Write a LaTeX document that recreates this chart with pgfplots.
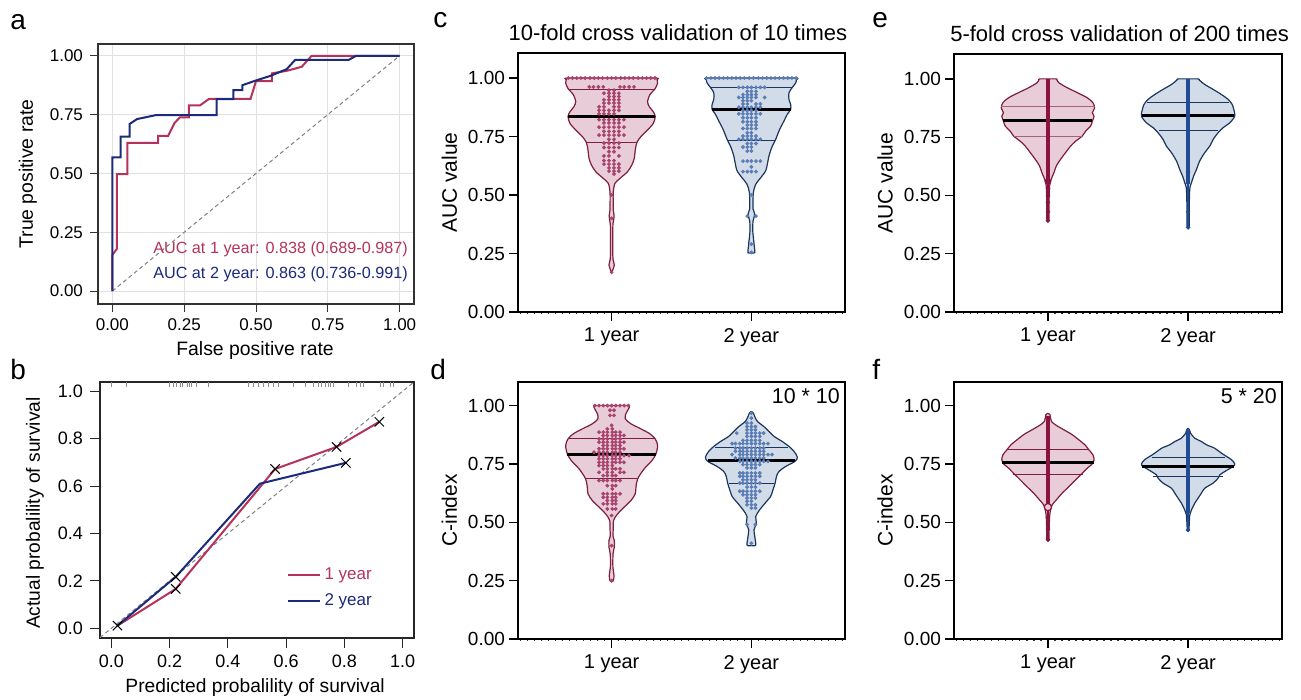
\documentclass[border=0pt]{standalone}
\usepackage{fontspec}
\setmainfont{Liberation Sans}
\usepackage{xcolor}
\usepackage{pgfplots}
\pgfplotsset{compat=1.18}
\usepackage{pgfplotstable}

\definecolor{RocRed}{HTML}{B5335A}
\definecolor{RocBlue}{HTML}{1B2A7A}
\definecolor{VRedLine}{HTML}{7D1E3E}
\definecolor{VRedFill}{HTML}{E8CDD8}
\definecolor{VRedDot}{HTML}{A8436E}
\definecolor{VRedCol}{HTML}{8A1340}
\definecolor{VBlueLine}{HTML}{1C355E}
\definecolor{VBlueFill}{HTML}{D2DCE8}
\definecolor{VBlueDot}{HTML}{5A7DB5}
\definecolor{VBlueCol}{HTML}{1F4C94}

\newcommand{\fs}[1]{\fontsize{#1}{1.2\dimexpr#1pt\relax}\selectfont}

% violin outline tables: y = value, w = half width (category units)
\pgfplotstableread{
y w
0.170 0
0.185 0.012
0.201 0.019
0.225 0.010
0.258 0.008
0.300 0.008
0.372 0.009
0.395 0.015
0.415 0.017
0.435 0.012
0.472 0.011
0.515 0.012
0.550 0.024
0.571 0.060
0.600 0.114
0.629 0.145
0.657 0.162
0.692 0.169
0.725 0.181
0.750 0.210
0.778 0.257
0.806 0.298
0.835 0.312
0.856 0.298
0.878 0.269
0.900 0.257
0.929 0.274
0.955 0.312
0.979 0.329
0.993 0.325
1.000 0.310
1.000 0
}\cRed
\pgfplotstableread{
y w
0.253 0
0.253 0.024
0.275 0.022
0.303 0.017
0.346 0.010
0.389 0.012
0.417 0.024
0.440 0.012
0.460 0.012
0.510 0.014
0.546 0.031
0.574 0.067
0.603 0.102
0.631 0.114
0.667 0.126
0.702 0.145
0.738 0.174
0.780 0.202
0.816 0.233
0.845 0.257
0.866 0.281
0.887 0.281
0.909 0.269
0.937 0.269
0.960 0.293
0.979 0.317
0.993 0.322
1.000 0.310
1.000 0
}\cBlue
\pgfplotstableread{
y w
0.245 0
0.250 0.012
0.272 0.017
0.308 0.009
0.365 0.010
0.393 0.019
0.422 0.019
0.440 0.010
0.465 0.011
0.508 0.014
0.536 0.043
0.565 0.090
0.593 0.138
0.622 0.169
0.650 0.174
0.686 0.186
0.729 0.233
0.764 0.288
0.793 0.317
0.829 0.329
0.857 0.312
0.879 0.274
0.900 0.210
0.922 0.138
0.943 0.098
0.965 0.102
0.986 0.121
1.000 0.120
1.000 0
}\dRed
\pgfplotstableread{
y w
0.400 0
0.400 0.028
0.411 0.031
0.440 0.024
0.468 0.019
0.496 0.036
0.525 0.031
0.554 0.060
0.582 0.098
0.611 0.138
0.640 0.155
0.668 0.170
0.697 0.180
0.718 0.198
0.739 0.245
0.761 0.312
0.779 0.329
0.804 0.305
0.825 0.269
0.846 0.221
0.868 0.162
0.889 0.126
0.910 0.090
0.932 0.043
0.953 0.024
0.968 0.014
0.975 0
}\dBlue
\pgfplotstableread{
y w
0.392 0
0.400 0.008
0.470 0.008
0.541 0.012
0.570 0.024
0.598 0.043
0.627 0.060
0.655 0.090
0.684 0.126
0.712 0.162
0.733 0.198
0.755 0.245
0.776 0.269
0.798 0.305
0.819 0.317
0.840 0.329
0.855 0.317
0.876 0.333
0.898 0.321
0.919 0.281
0.941 0.210
0.962 0.138
0.983 0.079
0.995 0.065
1.000 0.060
1.000 0
}\eRed
\pgfplotstableread{
y w
0.363 0
0.370 0.008
0.441 0.008
0.527 0.012
0.555 0.024
0.584 0.040
0.612 0.060
0.648 0.083
0.684 0.119
0.712 0.155
0.741 0.179
0.769 0.214
0.791 0.250
0.812 0.298
0.841 0.333
0.869 0.326
0.891 0.314
0.912 0.286
0.933 0.238
0.955 0.179
0.976 0.119
0.995 0.080
1.000 0.074
1.000 0
}\eBlue
\pgfplotstableread{
y w
0.425 0
0.430 0.008
0.453 0.008
0.525 0.012
0.553 0.019
0.575 0.031
0.596 0.060
0.625 0.102
0.653 0.150
0.682 0.198
0.710 0.245
0.732 0.281
0.753 0.321
0.768 0.329
0.789 0.321
0.810 0.293
0.832 0.264
0.853 0.221
0.875 0.174
0.896 0.114
0.917 0.055
0.932 0.025
0.946 0.019
0.960 0.015
0.967 0
}\fRed
\pgfplotstableread{
y w
0.467 0
0.470 0.006
0.532 0.012
0.553 0.024
0.582 0.048
0.603 0.071
0.625 0.095
0.646 0.119
0.668 0.179
0.689 0.214
0.703 0.226
0.722 0.274
0.739 0.321
0.750 0.333
0.768 0.310
0.782 0.274
0.796 0.238
0.817 0.190
0.832 0.131
0.846 0.095
0.860 0.048
0.882 0.017
0.896 0.010
0.903 0
}\fBlue

% #1 table, #2 centre, #3 line colour, #4 fill colour
\newcommand{\violin}[4]{%
  \addplot[fill=#4, draw=#4, line width=0.3pt, smooth, forget plot] table[x expr=#2+\thisrow{w}, y=y] {#1} -- cycle;
  \addplot[fill=#4, draw=#4, line width=0.3pt, smooth, forget plot] table[x expr=#2-\thisrow{w}, y=y] {#1} -- cycle;
  \addplot[#3, line width=0.6pt, smooth, forget plot] table[x expr=#2+\thisrow{w}, y=y] {#1};
  \addplot[#3, line width=0.6pt, smooth, forget plot] table[x expr=#2-\thisrow{w}, y=y] {#1};
}

\pgfplotsset{
  vio/.style={
    anchor=south west, scale only axis, width=163.5pt,
    xmin=0.33, xmax=2.67, ymin=0, enlargelimits=false,
    xtick={1,2}, xticklabels={1 year,2 year},
    minor xtick={0.35,0.40,...,2.65},
    ytick={0,0.25,0.5,0.75,1}, yticklabels={0.00,0.25,0.50,0.75,1.00},
    tick pos=left, tick align=outside,
    major tick length=4.5pt, minor tick length=0.9pt,
    tick style={black, line width=0.6pt},
    minor tick style={black!80, line width=0.6pt},
    axis line style={black, line width=0.7pt},
    xticklabel style={font=\fs{10}},
    yticklabel style={font=\fs{9.5}, xshift=1.5pt},
    ylabel style={at={(axis description cs:-0.21,0.5)}, anchor=center, font=\fs{10.5}},
    every axis title shift=0pt,
    title style={anchor=base, font=\fs{11}},
    clip=false},
  vdot/.style={only marks, mark=*, mark size=0.75pt, #1, forget plot}
}

\begin{document}
\begin{tikzpicture}
\useasboundingbox (0,0) rectangle (650.5pt,350pt);

% ---------------- a: ROC ----------------
\begin{axis}[at={(49pt,198pt)}, anchor=south west, scale only axis,
  width=158pt, height=130pt,
  xmin=-0.05, xmax=1.05, ymin=-0.055, ymax=1.05, enlargelimits=false,
  xtick={0,0.25,0.5,0.75,1}, xticklabels={0.00,0.25,0.50,0.75,1.00},
  ytick={0,0.25,0.5,0.75,1}, yticklabels={0.00,0.25,0.50,0.75,1.00},
  tick pos=left, tick align=outside, major tick length=4pt,
  tick style={black!80, line width=0.5pt},
  grid=major, major grid style={black!12, line width=0.5pt},
  axis line style={black!80, line width=0.6pt},
  ticklabel style={font=\fs{8.5}},
  xlabel={False positive rate}, ylabel={True positive rate},
  xlabel style={at={(axis description cs:0.497,-0.18)}, anchor=center, font=\fs{9.7}},
  ylabel style={at={(axis description cs:-0.222,0.5)}, anchor=center, font=\fs{9.7}}]
\addplot[gray, line width=0.5pt, dash pattern=on 2pt off 1.5pt] coordinates {(0,0) (1,1)};
\addplot[RocRed, line width=1pt] coordinates {
 (0,0) (0,0.153) (0.016,0.18) (0.016,0.497) (0.052,0.497) (0.052,0.63) (0.159,0.63)
 (0.159,0.659) (0.194,0.659) (0.217,0.715) (0.235,0.738) (0.266,0.738) (0.266,0.789)
 (0.305,0.789) (0.337,0.817) (0.481,0.817) (0.5,0.892) (0.555,0.892) (0.555,0.925)
 (0.607,0.936) (0.659,0.953) (0.694,1) (1,1)};
\addplot[RocBlue, line width=1pt] coordinates {
 (0,0) (0,0.568) (0.029,0.568) (0.029,0.656) (0.06,0.656) (0.06,0.71) (0.086,0.731)
 (0.153,0.748) (0.363,0.748) (0.363,0.816) (0.421,0.816) (0.421,0.854) (0.453,0.854)
 (0.453,0.875) (0.5,0.895) (0.549,0.914) (0.607,0.943) (0.636,0.982) (0.822,0.982)
 (0.849,1) (1,1)};
\node[anchor=east, text=RocRed, font=\fs{8.1}, inner sep=0pt] at (axis cs:1.03,0.177) {AUC at 1 year: 0.838 (0.689-0.987)};
\node[anchor=east, text=RocBlue, font=\fs{8.1}, inner sep=0pt] at (axis cs:1.03,0.072) {AUC at 2 year: 0.863 (0.736-0.991)};
\end{axis}

% ---------------- b: calibration ----------------
\begin{axis}[at={(50pt,31pt)}, anchor=south west, scale only axis,
  width=157pt, height=128pt,
  xmin=-0.039, xmax=1.039, ymin=-0.041, ymax=1.039, enlargelimits=false,
  xtick={0,0.2,0.4,0.6,0.8,1}, xticklabels={0.0,0.2,0.4,0.6,0.8,1.0},
  ytick={0,0.2,0.4,0.6,0.8,1}, yticklabels={0.0,0.2,0.4,0.6,0.8,1.0},
  tick pos=left, tick align=outside, major tick length=5pt,
  tick style={black!85, line width=0.5pt},
  axis line style={black!85, line width=0.6pt},
  ticklabel style={font=\fs{9}},
  xlabel={Predicted probalility of survival}, ylabel={Actual probalility of survival},
  xlabel style={at={(axis description cs:0.494,-0.195)}, anchor=center, font=\fs{9.6}},
  ylabel style={at={(axis description cs:-0.207,0.488)}, anchor=center, font=\fs{9.6}},
  legend style={at={(axis cs:0.60,0.275)}, anchor=north west, draw=none, fill=none,
    font=\fs{8.5}, row sep=1.5pt, inner sep=0pt},
  legend cell align=left,
  legend image code/.code={\draw[#1] (0pt,0pt) -- (16pt,0pt);}]
\addplot[gray, line width=0.5pt, dash pattern=on 2pt off 1.5pt, forget plot] coordinates {(-0.039,-0.039) (1.039,1.039)};
\addplot[only marks, mark=|, mark size=1.2pt, black!45, mark options={line width=0.3pt}, forget plot] coordinates {
 (0.0,1.028) (0.05,1.028) (0.2,1.028) (0.213,1.028) (0.224,1.028) (0.236,1.028) (0.245,1.028)
 (0.259,1.028) (0.268,1.028) (0.276,1.028) (0.293,1.028) (0.333,1.028) (0.47,1.028) (0.487,1.028)
 (0.505,1.028) (0.522,1.028) (0.539,1.028) (0.556,1.028) (0.573,1.028) (0.625,1.028) (0.665,1.028)
 (0.693,1.028) (0.71,1.028) (0.722,1.028) (0.733,1.028) (0.745,1.028) (0.751,1.028) (0.762,1.028)
 (0.813,1.028) (0.842,1.028) (0.854,1.028) (0.865,1.028) (0.922,1.028) (0.934,1.028) (0.957,1.028)
 (0.968,1.028)};
\addplot[RocRed, line width=1pt] coordinates {(0.021,0.011) (0.221,0.166) (0.562,0.672) (0.773,0.765) (0.92,0.871)};
\addlegendentry{\textcolor{RocRed}{1 year}}
\addplot[RocBlue, line width=1pt] coordinates {(0.021,0.011) (0.221,0.217) (0.51,0.61) (0.805,0.698)};
\addlegendentry{\textcolor{RocBlue}{2 year}}
\addplot[only marks, mark=x, mark size=3.3pt, black, mark options={line width=0.5pt}, forget plot] coordinates {
 (0.021,0.011) (0.221,0.166) (0.221,0.217) (0.562,0.672) (0.773,0.765) (0.805,0.698) (0.92,0.871)};
\end{axis}

% ---------------- c ----------------
\begin{axis}[vio, at={(259pt,194pt)}, height=129.5pt, ymax=1.107,
  ylabel={AUC value}, title={10-fold cross validation of 10 times},
  title style={at={(axis description cs:0.489,1.05)}}]
\violin{\cRed}{1}{VRedLine}{VRedFill}
\violin{\cBlue}{2}{VBlueLine}{VBlueFill}
\addplot[vdot=VRedDot] coordinates {
 (0.69,1) (0.72,1) (0.75,1) (0.78,1) (0.81,1) (0.845,1) (0.875,1) (0.905,1) (0.935,1) (0.97,1) (1,1)
 (1.03,1) (1.065,1) (1.095,1) (1.125,1) (1.155,1) (1.19,1) (1.22,1) (1.25,1) (1.28,1) (1.31,1)
 (0.84,0.962) (0.87,0.962) (0.905,0.962) (0.94,0.962) (1.06,0.962) (1.09,0.962) (1.125,0.962) (1.16,0.962)
 (0.981,0.948) (1.017,0.948)
 (0.945,0.935) (0.981,0.935) (1.017,0.935) (1.052,0.935)
 (0.981,0.921) (1.017,0.921) (1.052,0.921)
 (0.945,0.907) (0.981,0.907) (1.017,0.907) (1.052,0.907)
 (0.945,0.893) (0.981,0.893) (1.017,0.893) (1.052,0.893)
 (0.91,0.877) (0.945,0.877) (1.017,0.877) (1.052,0.877)
 (0.91,0.862) (0.945,0.862) (0.981,0.862) (1.017,0.862) (1.052,0.862)
 (0.91,0.847) (0.945,0.847) (0.981,0.847) (1.017,0.847)
 (0.91,0.822) (0.945,0.822) (0.981,0.822) (1.017,0.822) (1.052,0.822) (1.088,0.822)
 (0.945,0.808) (0.981,0.808) (1.017,0.808) (1.052,0.808)
 (0.91,0.79) (0.945,0.79) (0.981,0.79) (1.017,0.79) (1.052,0.79) (1.088,0.79)
 (0.945,0.772) (0.981,0.772) (1.017,0.772) (1.052,0.772)
 (0.91,0.756) (0.945,0.756) (0.981,0.756) (1.017,0.756) (1.052,0.756) (1.088,0.756)
 (0.981,0.738) (1.017,0.738)
 (0.945,0.722) (0.981,0.722) (1.017,0.722) (1.052,0.722)
 (0.945,0.703) (0.981,0.703) (1.017,0.703) (1.052,0.703)
 (0.981,0.685) (1.017,0.685)
 (0.945,0.667) (0.981,0.667) (1.052,0.667)
 (0.945,0.647) (0.981,0.647) (1.017,0.647)
 (0.945,0.632) (0.981,0.632) (1.017,0.632) (1.052,0.632)
 (0.981,0.616) (1.017,0.616) (1.052,0.616)
 (0.981,0.602) (1.017,0.602) (1.052,0.602)
 (1.017,0.59) (1,0.5) (1,0.4) (1,0.17)};
\addplot[vdot=VBlueDot] coordinates {
 (1.68,1) (1.71,1) (1.74,1) (1.77,1) (1.80,1) (1.83,1) (1.86,1) (1.89,1) (1.92,1) (1.95,1) (1.985,1)
 (2.015,1) (2.05,1) (2.08,1) (2.11,1) (2.14,1) (2.17,1) (2.20,1) (2.23,1) (2.26,1) (2.29,1) (2.32,1)
 (1.91,0.96) (1.94,0.96) (1.971,0.96) (2,0.96) (2.033,0.96) (2.064,0.96) (2.095,0.96)
 (1.971,0.943) (2,0.943) (2.033,0.943)
 (1.94,0.929) (1.971,0.929) (2,0.929) (2.033,0.929)
 (1.91,0.917) (1.94,0.917) (1.971,0.917) (2,0.917) (2.033,0.917) (2.095,0.917)
 (1.94,0.903) (1.971,0.903) (2,0.903)
 (1.94,0.889) (1.971,0.889) (2.033,0.889) (2.064,0.889)
 (1.91,0.875) (1.94,0.875) (1.971,0.875) (2,0.875) (2.033,0.875) (2.064,0.875)
 (1.94,0.861) (1.971,0.861) (2,0.861) (2.033,0.861)
 (1.91,0.847) (1.94,0.847) (1.971,0.847) (2,0.847) (2.033,0.847) (2.064,0.847)
 (1.94,0.83) (1.971,0.83) (2,0.83) (2.033,0.83)
 (1.94,0.813) (1.971,0.813) (2,0.813) (2.033,0.813)
 (1.971,0.799) (2,0.799) (2.033,0.799)
 (1.94,0.784) (1.971,0.784) (2,0.784) (2.033,0.784)
 (1.971,0.766) (2,0.766)
 (1.94,0.752) (1.971,0.752) (2,0.752) (2.033,0.752)
 (1.91,0.738) (1.94,0.738) (1.971,0.738) (2,0.738) (2.033,0.738) (2.064,0.738)
 (1.971,0.72) (2,0.72) (2.033,0.72)
 (1.94,0.705) (1.971,0.705) (2,0.705)
 (1.971,0.688) (2,0.688)
 (1.94,0.645) (1.971,0.645) (2,0.645) (2.033,0.645) (2.064,0.645)
 (2,0.62)
 (1.94,0.6) (1.971,0.6) (2,0.6) (2.033,0.6)
 (2,0.5) (1.971,0.41) (2.033,0.41) (2,0.29) (2,0.255)};
\addplot[VRedLine, line width=0.5pt] coordinates {(0.69,0.951) (1.31,0.951)};
\addplot[VRedLine, line width=0.5pt] coordinates {(0.82,0.723) (1.18,0.723)};
\addplot[black, line width=1.5pt] coordinates {(0.688,0.837) (1.312,0.837)};
\addplot[VBlueLine, line width=0.5pt] coordinates {(1.707,0.96) (2.293,0.96)};
\addplot[VBlueLine, line width=0.5pt] coordinates {(1.83,0.735) (2.17,0.735)};
\addplot[black, line width=1.5pt] coordinates {(1.719,0.865) (2.281,0.865)};
\end{axis}

% ---------------- d ----------------
\begin{axis}[vio, at={(259pt,30.5pt)}, height=128.5pt, ymax=1.101,
  ylabel={C-index}]
\violin{\dRed}{1}{VRedLine}{VRedFill}
\violin{\dBlue}{2}{VBlueLine}{VBlueFill}
\addplot[vdot=VRedDot] coordinates {
 (0.88,1) (0.91,1) (0.94,1) (0.97,1) (1,1) (1.03,1) (1.06,1) (1.09,1) (1.12,1)
 (0.988,0.98) (1.017,0.98) (0.988,0.958) (1.017,0.958) (1,0.915) (0.969,0.9) (1.005,0.9)
 (0.91,0.886) (0.94,0.886) (0.969,0.886) (1.005,0.886) (1.029,0.886) (1.06,0.886)
 (0.94,0.872) (0.969,0.872) (1.005,0.872) (1.029,0.872) (1.06,0.872) (1.088,0.872)
 (0.91,0.857) (0.94,0.857) (0.969,0.857) (1.005,0.857) (1.029,0.857) (1.06,0.857)
 (0.91,0.843) (0.94,0.843) (0.969,0.843) (1.005,0.843) (1.029,0.843) (1.06,0.843) (1.088,0.843)
 (0.94,0.829) (0.969,0.829) (1.005,0.829) (1.029,0.829) (1.06,0.829)
 (0.91,0.815) (0.94,0.815) (0.969,0.815) (1.005,0.815) (1.029,0.815) (1.06,0.815) (1.088,0.815)
 (0.874,0.8) (0.91,0.8) (0.94,0.8) (0.969,0.8) (1.005,0.8) (1.029,0.8) (1.06,0.8)
 (0.91,0.786) (0.94,0.786) (0.969,0.786) (1.005,0.786) (1.029,0.786) (1.06,0.786) (1.088,0.786) (1.124,0.786)
 (0.91,0.772) (0.94,0.772) (0.969,0.772) (1.005,0.772) (1.029,0.772) (1.06,0.772)
 (0.91,0.757) (0.94,0.757) (0.969,0.757) (1.005,0.757) (1.029,0.757) (1.06,0.757) (1.088,0.757)
 (0.91,0.743) (0.94,0.743) (0.969,0.743) (1.005,0.743)
 (0.94,0.729) (0.969,0.729) (1.005,0.729) (1.029,0.729) (1.06,0.729)
 (0.91,0.714) (0.969,0.714) (1.005,0.714) (1.06,0.714) (1.088,0.714)
 (0.94,0.7) (0.969,0.7) (1.005,0.7) (1.029,0.7)
 (0.91,0.679) (0.94,0.679) (0.969,0.679) (1.005,0.679) (1.029,0.679) (1.06,0.679)
 (0.969,0.657) (1.005,0.657) (1.029,0.657) (1.005,0.643)
 (0.94,0.622) (0.969,0.622) (1.005,0.622) (1.029,0.622) (1.06,0.622)
 (0.94,0.607) (0.969,0.607) (1.005,0.607) (1.029,0.607)
 (0.969,0.593) (1.005,0.593) (1.029,0.593)
 (0.94,0.579) (0.969,0.579) (1.005,0.579) (1.029,0.579)
 (0.969,0.557) (1.005,0.557) (1.029,0.557)
 (1,0.529) (1,0.4) (1,0.25)};
\addplot[vdot=VBlueDot] coordinates {
 (2,0.967) (2,0.946) (1.969,0.925) (2,0.925) (1.969,0.91) (2,0.91) (2.029,0.91)
 (1.969,0.896) (2,0.896) (2.029,0.896)
 (1.895,0.882) (1.969,0.882) (2,0.882) (2.029,0.882) (2.06,0.882) (2.088,0.882)
 (1.969,0.868) (2,0.868) (2.029,0.868) (2.06,0.868)
 (1.94,0.851) (1.969,0.851) (2,0.851) (2.029,0.851) (2.06,0.851)
 (1.862,0.837) (1.886,0.837) (1.917,0.837) (1.94,0.837) (1.969,0.837) (2,0.837) (2.029,0.837) (2.06,0.837) (2.088,0.837) (2.119,0.837)
 (1.886,0.818) (1.917,0.818) (1.94,0.818) (1.969,0.818) (2,0.818) (2.029,0.818) (2.06,0.818) (2.088,0.818)
 (1.886,0.804) (1.917,0.804) (1.94,0.804) (1.969,0.804) (2,0.804) (2.029,0.804) (2.06,0.804) (2.088,0.804)
 (1.862,0.79) (1.917,0.79) (1.94,0.79) (1.969,0.79) (2,0.79) (2.029,0.79) (2.06,0.79) (2.088,0.79) (2.119,0.79) (2.148,0.79)
 (1.886,0.775) (1.917,0.775) (1.94,0.775) (1.969,0.775) (2,0.775) (2.029,0.775) (2.06,0.775) (2.088,0.775)
 (1.917,0.761) (1.94,0.761) (1.969,0.761) (2,0.761) (2.029,0.761) (2.06,0.761) (2.088,0.761) (2.119,0.761)
 (1.94,0.747) (1.969,0.747) (2,0.747) (2.029,0.747) (2.06,0.747)
 (1.969,0.733) (2,0.733) (2.029,0.733)
 (1.917,0.711) (1.94,0.711) (1.969,0.711) (2,0.711) (2.029,0.711) (2.06,0.711)
 (1.917,0.697) (1.94,0.697) (1.969,0.697) (2,0.697) (2.029,0.697) (2.06,0.697)
 (1.94,0.682) (1.969,0.682) (2,0.682) (2.029,0.682)
 (1.917,0.668) (1.94,0.668) (1.969,0.668) (2,0.668) (2.029,0.668) (2.06,0.668)
 (1.969,0.651) (2,0.651) (2.029,0.651)
 (1.917,0.633) (1.94,0.633) (1.969,0.633) (2,0.633) (2.029,0.633) (2.06,0.633)
 (1.94,0.618) (1.969,0.618) (2,0.618) (2.029,0.618)
 (1.969,0.604) (2,0.604) (2.029,0.604)
 (1.969,0.59) (2,0.59) (1.969,0.575) (2,0.575) (2.029,0.575) (2,0.561) (2.029,0.561)
 (1.969,0.49) (2.029,0.49) (2,0.41)};
\addplot[VRedLine, line width=0.5pt] coordinates {(0.69,0.86) (1.31,0.86)};
\addplot[VRedLine, line width=0.5pt] coordinates {(0.82,0.689) (1.18,0.689)};
\addplot[black, line width=1.5pt] coordinates {(0.683,0.792) (1.317,0.792)};
\addplot[VBlueLine, line width=0.5pt] coordinates {(1.74,0.822) (2.26,0.822)};
\addplot[VBlueLine, line width=0.5pt] coordinates {(1.84,0.668) (2.16,0.668)};
\addplot[black, line width=1.5pt] coordinates {(1.69,0.763) (2.31,0.763)};
\node[anchor=base east, font=\fs{10.7}, inner sep=0pt] at (rel axis cs:0.985,0.918) {10 * 10};
\end{axis}

% ---------------- e ----------------
\begin{axis}[vio, at={(477pt,194pt)}, width=164pt, height=129pt, ymax=1.107,
  ylabel={AUC value}, title={5-fold cross validation of 200 times},
  title style={at={(axis description cs:0.505,1.05)}}]
\violin{\eRed}{1}{VRedLine}{VRedFill}
\violin{\eBlue}{2}{VBlueLine}{VBlueFill}
\addplot[VRedLine!70, line width=0.5pt] coordinates {(0.667,0.88) (1.333,0.88)};
\addplot[VRedLine!70, line width=0.5pt] coordinates {(0.755,0.753) (1.245,0.753)};
\addplot[black, line width=1.5pt] coordinates {(0.683,0.822) (1.317,0.822)};
\addplot[VBlueLine, line width=0.5pt] coordinates {(1.71,0.9) (2.29,0.9)};
\addplot[VBlueLine, line width=0.5pt] coordinates {(1.79,0.779) (2.21,0.779)};
\addplot[black, line width=1.5pt] coordinates {(1.674,0.843) (2.326,0.843)};
\addplot[VRedCol, line width=0.8pt] coordinates {(1,0.392) (1,0.56)};
\addplot[VRedCol, line width=2.3pt] coordinates {(1,0.56) (1,1.0)};
\addplot[vdot=VRedCol, mark size=0.9pt] coordinates {(1,0.392) (1,0.43) (1,0.47) (1,0.5) (1,0.53)};
\addplot[vdot=VRedCol, mark size=1.5pt] coordinates {(1,0.56)};
\addplot[VBlueCol, line width=0.8pt] coordinates {(2,0.363) (2,0.55)};
\addplot[VBlueCol, line width=2.3pt] coordinates {(2,0.55) (2,1.0)};
\addplot[vdot=VBlueCol, mark size=0.9pt] coordinates {(2,0.363) (2,0.43) (2,0.6)};
\end{axis}

% ---------------- f ----------------
\begin{axis}[vio, at={(477pt,30.5pt)}, width=164pt, height=128.5pt, ymax=1.101,
  ylabel={C-index}]
\violin{\fRed}{1}{VRedLine}{VRedFill}
\violin{\fBlue}{2}{VBlueLine}{VBlueFill}
\addplot[VRedLine, line width=0.5pt] coordinates {(0.71,0.81) (1.29,0.81)};
\addplot[VRedLine, line width=0.5pt] coordinates {(0.75,0.703) (1.25,0.703)};
\addplot[black, line width=1.5pt] coordinates {(0.674,0.757) (1.326,0.757)};
\addplot[VBlueLine, line width=0.5pt] coordinates {(1.74,0.779) (2.26,0.779)};
\addplot[VBlueLine, line width=0.5pt] coordinates {(1.75,0.696) (2.25,0.696)};
\addplot[black, line width=1.5pt] coordinates {(1.674,0.739) (2.326,0.739)};
\addplot[VRedCol, line width=0.8pt] coordinates {(1,0.425) (1,0.565)};
\addplot[VRedCol, line width=2.3pt] coordinates {(1,0.565) (1,0.955)};
\addplot[vdot=VRedCol, mark size=0.9pt] coordinates {(1,0.425) (1,0.47) (1,0.52)};
\addplot[only marks, mark=*, mark size=1.8pt, mark options={draw=VRedCol, fill=VRedFill, line width=0.6pt}, forget plot] coordinates {(1,0.565)};
\addplot[VBlueCol, line width=0.8pt] coordinates {(2,0.467) (2,0.54)};
\addplot[VBlueCol, line width=2.3pt] coordinates {(2,0.54) (2,0.895)};
\addplot[vdot=VBlueCol, mark size=0.9pt] coordinates {(2,0.467)};
\node[anchor=base east, font=\fs{10.7}, inner sep=0pt] at (rel axis cs:0.985,0.918) {5 * 20};
\end{axis}

% panel letters
\node[anchor=base west, font=\fs{14}, inner sep=0pt] at (5pt,335pt) {a};
\node[anchor=base west, font=\fs{14}, inner sep=0pt] at (5pt,160pt) {b};
\node[anchor=base west, font=\fs{14}, inner sep=0pt] at (216.5pt,336pt) {c};
\node[anchor=base west, font=\fs{14}, inner sep=0pt] at (215pt,160pt) {d};
\node[anchor=base west, font=\fs{14}, inner sep=0pt] at (436pt,336pt) {e};
\node[anchor=base west, font=\fs{14}, inner sep=0pt] at (436pt,160pt) {f};
\end{tikzpicture}
\end{document}
